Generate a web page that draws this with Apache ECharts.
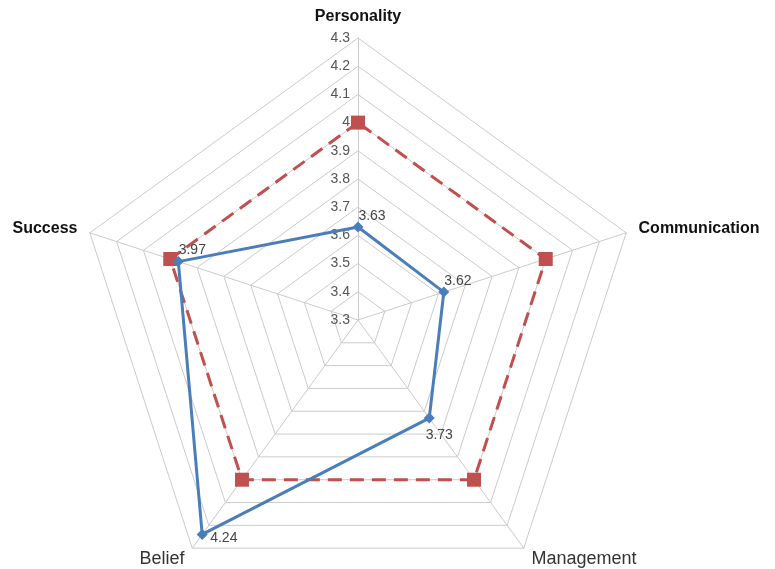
<!DOCTYPE html>
<html><head><meta charset="utf-8">
<script src="https://cdn.jsdelivr.net/npm/echarts@6/dist/echarts.min.js"></script>
<style>html,body{margin:0;padding:0;background:#fff}#c{width:775px;height:569px}</style>
</head><body><div id="c"></div>
<script>
// Indicators listed in ECharts order (counter-clockwise from top):
// Personality (top), Success (upper left), Belief (lower left), Management (lower right), Communication (upper right)
var categories = ['Personality', 'Success', 'Belief', 'Management', 'Communication'];
var boldNames = ['Personality', 'Communication', 'Success'];
var blueValues = [3.63, 3.97, 4.24, 3.73, 3.62];
var redValues = [4.0, 4.0, 4.0, 4.0, 4.0];
var axisMin = 3.3, axisMax = 4.3;
var labelsUpRight = [3.63, 3.62, 3.97];
var labelsDownRight = [3.73];
var labelsRight = [4.24];

var chart = echarts.init(document.getElementById('c'));
var indicator = categories.map(function (n, i) {
  var o = { name: n, min: axisMin, max: axisMax };
  if (i === 0) o.axisLabel = { show: true };
  return o;
});
function labelFor(list) {
  return function (p) {
    var v = p.value;
    return (typeof v === 'number' && list.indexOf(v) >= 0) ? String(v) : '';
  };
}
function overlay(list, pos, offset) {
  return {
    type: 'radar', silent: true, z: 5,
    data: [{ value: blueValues, symbol: 'circle', symbolSize: 2,
      itemStyle: { color: 'rgba(0,0,0,0)' },
      lineStyle: { color: 'rgba(0,0,0,0)', width: 0 },
      label: { show: true, position: pos, offset: offset, color: '#444', fontSize: 14,
        fontFamily: 'Liberation Sans', formatter: labelFor(list) } }]
  };
}
chart.setOption({
  backgroundColor: '#fff',
  animation: false,
  radar: {
    center: [358, 320],
    radius: 282,
    startAngle: 90,
    splitNumber: 10,
    shape: 'polygon',
    nameGap: 13,
    indicator: indicator,
    axisName: {
      formatter: function (n) { return boldNames.indexOf(n) >= 0 ? '{b|' + n + '}' : '{n|' + n + '}'; },
      rich: {
        b: { fontWeight: 'bold', color: '#111', fontSize: 16, fontFamily: 'Liberation Sans' },
        n: { color: '#333', fontSize: 18, fontFamily: 'Liberation Sans' }
      }
    },
    axisLine: { lineStyle: { color: '#cbcbcb', width: 1 } },
    splitLine: { lineStyle: { color: '#cbcbcb', width: 1 } },
    splitArea: { show: false },
    axisTick: { show: false },
    axisLabel: { show: false, color: '#555', fontSize: 14, fontFamily: 'Liberation Sans', margin: 8 }
  },
  series: [
    {
      type: 'radar', z: 3,
      data: [{ value: redValues, symbol: 'rect', symbolSize: 14,
        itemStyle: { color: '#c0504d' },
        lineStyle: { color: '#c0504d', width: 3, type: [14, 8] } }]
    },
    {
      type: 'radar', z: 4,
      data: [{ value: blueValues, symbol: 'diamond', symbolSize: 11,
        itemStyle: { color: '#4a7ebb' },
        lineStyle: { color: '#4a7ebb', width: 3 } }]
    },
    overlay(labelsUpRight, 'top', [14, 2]),
    overlay(labelsDownRight, 'bottom', [10, 4]),
    overlay(labelsRight, 'right', [2, 4])
  ]
});
</script></body></html>
